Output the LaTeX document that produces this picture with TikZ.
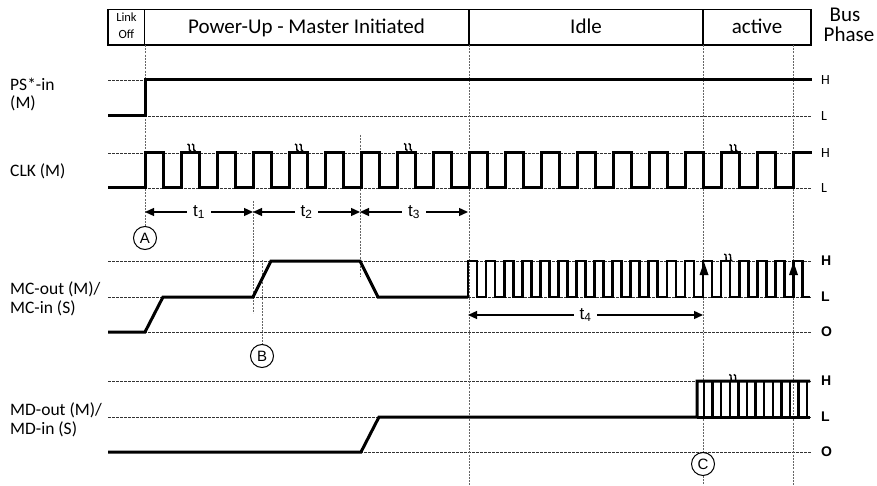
\documentclass[tikz,border=0pt]{standalone}
\usepackage{fontspec}
\setmainfont{Carlito}
\newfontfamily\arialf{Liberation Sans}
\usetikzlibrary{arrows.meta}
\begin{document}
\begin{tikzpicture}[x=1pt,y=-1pt,
  sig/.style={line width=3pt},
  fsig/.style={line width=2.7pt},
  lvl/.style={line width=0.9pt, dash pattern=on 2.5pt off 1.5pt, black!80},
  vdash/.style={line width=1pt, dash pattern=on 2pt off 1.2pt, black!60},
  lbl/.style={anchor=base west, font=\fontsize{17.5}{17.5}\selectfont, inner sep=0},
  hl/.style={anchor=west, font=\fontsize{14}{14}\selectfont, inner sep=0},
  hlb/.style={anchor=west, font=\arialf\bfseries\fontsize{14}{14}\selectfont, inner sep=0},
  tarr/.style={line width=1.3pt, {Triangle[length=9pt,width=8pt]}-{Triangle[length=9pt,width=8pt]}},
  tlab/.style={fill=white, inner xsep=6pt, inner ysep=1pt, font=\arialf\fontsize{17}{17}\selectfont},
  circmark/.style={circle, draw, line width=1pt, minimum size=23pt, inner sep=0, font=\arialf\fontsize{15}{15}\selectfont, fill=white},
  hdr/.style={anchor=base, font=\fontsize{21}{21}\selectfont, inner sep=0},
  brk/.pic={
    \draw[line width=1.4pt] (-4,-3.5) .. controls (0,-3.5) and (-4.5,3.5) .. (-0.5,3.5);
    \draw[line width=1.4pt] (0.5,-3.5) .. controls (4.5,-3.5) and (0,3.5) .. (4,3.5);
  },
]
\useasboundingbox[fill=white] (0,0) rectangle (877,486);

% header
\draw[line width=1.2pt] (108,9.5) rectangle (811,45);
\draw[line width=1.2pt] (144.5,9.5) -- (144.5,45) (469,9.5) -- (469,45) (703,9.5) -- (703,45);
\node[anchor=base, font=\fontsize{12.5}{12.5}\selectfont, inner sep=0] (hlink) at (126.5,21.7) {Link};
\node[anchor=base, font=\fontsize{12.5}{12.5}\selectfont, inner sep=0] (hoff) at (126.5,38.3) {Off};
\node[hdr] (hpu) at (306.5,33.3) {Power-Up - Master Initiated};
\node[hdr] (hidle) at (586,33.3) {Idle};
\node[hdr] (hact) at (757,33.3) {active};
\node[hdr] (hbus) at (845,22) {Bus};
\node[hdr] (hphase) at (849,42) {Phase};

% level lines
\foreach \yy in {80,116,153,188,261,297,332,381,417,452}
  \draw[lvl] (108,\yy) -- (812,\yy);

% markers
\node[circmark] (A) at (145,238) {A};
\node[circmark] (B) at (262,356) {B};
\node[circmark] (C) at (703,464) {C};

% vertical dashed lines
\coordinate (v145t) at (145,45);
\coordinate (v469t) at (469,45);
\coordinate (v469b) at (469,486);
\coordinate (v703t) at (703,45);
\coordinate (v703b) at (703,486);
\coordinate (v793t) at (793,45);
\coordinate (v793b) at (793,486);
\coordinate (v253t) at (253,201);
\coordinate (v253b) at (253,313);
\coordinate (v360t) at (360,135);
\coordinate (v360b) at (360,277);
\coordinate (v262t) at (262,260);
\draw[vdash] (v145t) -- (A.north);
\draw[vdash] (v469t) -- (v469b);
\draw[vdash] (v703t) -- (C.north) (C.south) -- (v703b);
\draw[vdash] (v793t) -- (v793b);
\draw[vdash] (v253t) -- (v253b);
\draw[vdash] (v360t) -- (v360b);
\draw[vdash] (v262t) -- (B.north);

% left labels
\node[lbl] (lps1) at (10,91) {PS*-in};
\node[lbl] (lps2) at (10,109) {(M)};
\node[lbl] (lclk) at (10,177) {CLK (M)};
\node[lbl] (lmc1) at (10,294) {MC-out (M)/};
\node[lbl] (lmc2) at (10,313) {MC-in (S)};
\node[lbl] (lmd1) at (10,415) {MD-out (M)/};
\node[lbl] (lmd2) at (10,434) {MD-in (S)};

% right labels
\node[hl] (rpsh) at (821,80) {H};
\node[hl] (rpsl) at (821,116) {L};
\node[hl] (rclkh) at (821,153) {H};
\node[hl] (rclkl) at (821,188) {L};
\node[hlb] (rmch) at (821,261) {H};
\node[hlb] (rmcl) at (821,297) {L};
\node[hlb] (rmco) at (821,332) {O};
\node[hlb] (rmdh) at (821,381) {H};
\node[hlb] (rmdl) at (821,417) {L};
\node[hlb] (rmdo) at (821,452) {O};

% PS*-in
\draw[sig] (108,116) -- (145,116) -- (145,80) -- (812,80);

% CLK
\draw[sig] (108,188) foreach \k in {0,...,17} { -- ({145+36*\k},188) -- ({145+36*\k},153) -- ({163+36*\k},153) -- ({163+36*\k},188) } -- (793,188) -- (793,153) -- (812,153);

% MC
\draw[sig] (108,332) -- (145,332) -- (163,297) -- (253,297) -- (271,261) -- (360,261) -- (378,297) -- (468,297);
\draw[fsig] (466.5,297) foreach \k in {0,...,18} { -- ({468+18.077*\k},297) -- ({468+18.077*\k},261) -- ({477.04+18.077*\k},261) -- ({477.04+18.077*\k},297) } -- (810,297);
\fill (704,262) -- (708.5,275) -- (699.5,275) -- cycle;
\fill (793.5,262) -- (798,275) -- (789,275) -- cycle;

% MD
\draw[sig] (108,452) -- (361,452) -- (379,417) -- (697,417) -- (697,381) -- (810,381);
\draw[sig] (697,417) -- (810,417);
\foreach \k in {0,...,12}
  \draw[line width=2.5pt] ({704+8.6*\k},381) -- ({704+8.6*\k},417);

% break marks
\pic at (191.5,147.5) {brk};
\pic at (299,147.5) {brk};
\pic at (408,147) {brk};
\pic at (733.5,148) {brk};
\pic at (728.3,257.5) {brk};
\pic at (733.3,378) {brk};

% timing arrows
\coordinate (ta0) at (145,212);
\coordinate (ta1) at (253,212);
\coordinate (ta2) at (360,212);
\coordinate (ta3) at (468,212);
\coordinate (tb0) at (468,315);
\coordinate (tb1) at (703,315);
\draw[tarr] (ta0) -- node[tlab] (t1) {t\textsubscript{1}} (ta1);
\draw[tarr] (ta1) -- node[tlab] (t2) {t\textsubscript{2}} (ta2);
\draw[tarr] (ta2) -- node[tlab] (t3) {t\textsubscript{3}} (ta3);
\draw[tarr] (tb0) -- node[tlab] (t4) {t\textsubscript{4}} (tb1);
\end{tikzpicture}
\end{document}
